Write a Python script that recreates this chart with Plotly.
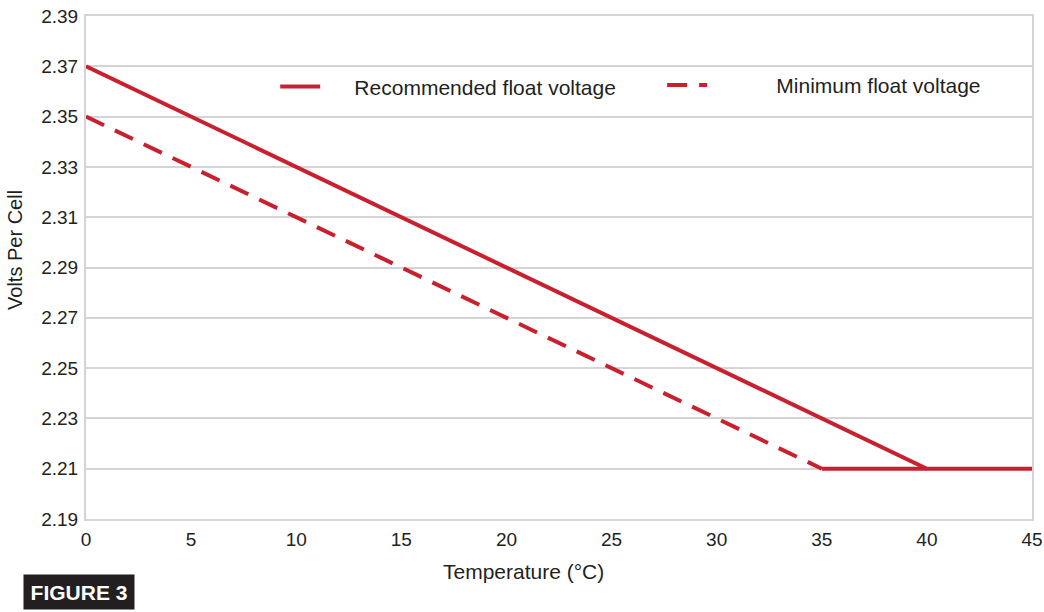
import plotly.graph_objects as go

RED = '#c8202f'
GRID = '#d4d4d4'
INK = '#231f20'

# data
temp_rec = [0, 40, 45]
volts_rec = [2.37, 2.21, 2.21]

temp_min = [0, 35]
volts_min = [2.35, 2.21]

temp_min_flat = [35, 40]
volts_min_flat = [2.21, 2.21]

x_ticks = [0, 5, 10, 15, 20, 25, 30, 35, 40, 45]
y_ticks = [2.19, 2.21, 2.23, 2.25, 2.27, 2.29, 2.31, 2.33, 2.35, 2.37, 2.39]

# the original leaves a wide gap after each legend sample
PAD1 = '\u00a0' * 5
PAD2 = '\u00a0' * 11

fig = go.Figure()

fig.add_trace(go.Scatter(x=temp_rec, y=volts_rec, mode='lines',
                         name=PAD1 + 'Recommended float voltage', legend='legend',
                         line=dict(color=RED, width=4)))
fig.add_trace(go.Scatter(x=temp_min, y=volts_min, mode='lines',
                         name=PAD2 + 'Minimum float voltage', legend='legend2',
                         line=dict(color=RED, width=4, dash='20px,12px')))
# flat part of the minimum curve sits under the solid line
fig.add_trace(go.Scatter(x=temp_min_flat, y=volts_min_flat, mode='lines',
                         showlegend=False, line=dict(color=RED, width=4)))

# axis titles are off-centre in the original, so place them by hand
fig.add_annotation(text='Temperature (°C)', xref='paper', yref='paper',
                   x=0.463, y=-0.105, xanchor='center', yanchor='middle',
                   showarrow=False, font=dict(size=21, color=INK))
fig.add_annotation(text='Volts Per Cell', xref='paper', yref='paper',
                   x=-0.075, y=0.535, xanchor='center', yanchor='middle',
                   textangle=-90, showarrow=False,
                   font=dict(size=20, color=INK))

fig.add_annotation(text='<b>FIGURE 3</b>', xref='paper', yref='paper',
                   x=-0.067, y=-0.109, xanchor='left', yanchor='top',
                   showarrow=False, bgcolor=INK, align='center',
                   font=dict(family='Liberation Sans', size=21, color='white'),
                   borderpad=3, width=104, height=28)

legend_style = dict(orientation='h', yanchor='middle', xanchor='left',
                    bgcolor='rgba(0,0,0,0)', itemwidth=40,
                    font=dict(family='Liberation Sans', size=21, color=INK))

fig.update_layout(
    width=1044, height=612,
    margin=dict(l=86, r=12, t=16, b=93),
    plot_bgcolor='white', paper_bgcolor='white',
    font=dict(family='Liberation Sans', size=19, color=INK),
    legend=dict(x=0.20, y=0.859, **legend_style),
    legend2=dict(x=0.609, y=0.862, **legend_style),
    xaxis=dict(range=[0, 45], tickvals=x_ticks, showgrid=False,
               zeroline=False, showline=True, linecolor=GRID, linewidth=2,
               mirror=True, ticks='', ticklabelstandoff=2, automargin=False),
    yaxis=dict(range=[2.19, 2.39], tickvals=y_ticks, tickformat='.2f',
               showgrid=True, gridcolor=GRID, gridwidth=2, zeroline=False,
               showline=True, linecolor=GRID, linewidth=2, mirror=True,
               ticks='', ticklabelstandoff=2, automargin=False),
)

fig.write_html('out.html', config={'displayModeBar': False},
               post_script="document.body.style.margin='0';")
